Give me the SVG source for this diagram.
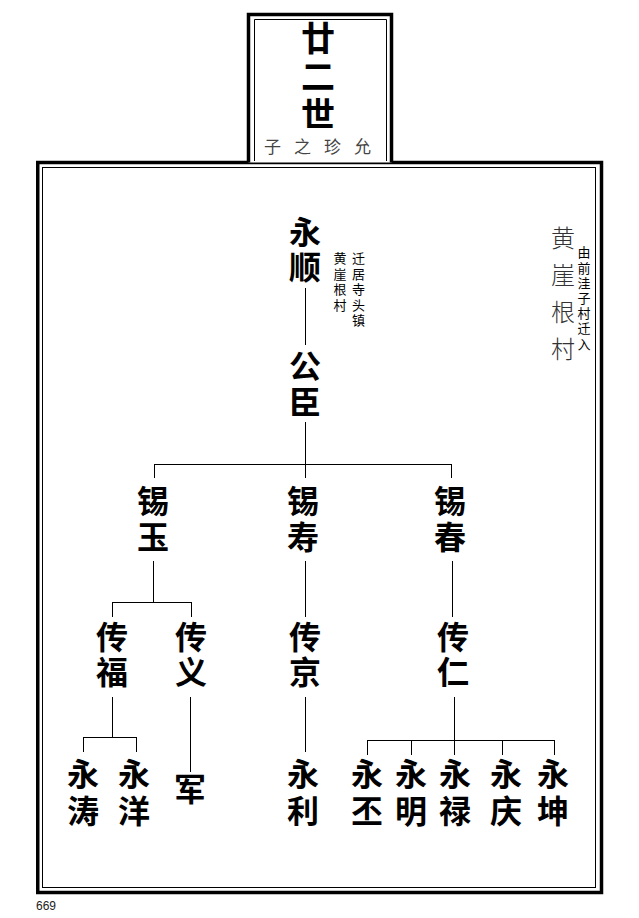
<svg xmlns="http://www.w3.org/2000/svg" width="639" height="918" viewBox="0 0 639 918">
<style>
text{font-family:"Noto Sans CJK SC","Noto Sans CJK TC",sans-serif}
.vt{writing-mode:vertical-rl;text-orientation:upright}
.n{font-size:32px;font-weight:700;fill:#000;letter-spacing:4px}
.t{font-size:34px;font-weight:700;fill:#000;letter-spacing:4px}
.s{font-size:17px;font-weight:400;fill:#444;letter-spacing:13px}
.a{font-size:13px;font-weight:400;fill:#000;letter-spacing:2.4px}
.v{font-size:24px;font-weight:300;fill:#333;letter-spacing:13px}
.c{fill:none;stroke:#000;stroke-width:1}
</style>
<rect width="639" height="918" fill="#fff"/>
<g id="frame">
<rect x="37.75" y="162.5" width="563.75" height="730" fill="none" stroke="#000" stroke-width="3.5"/>
<rect x="42.5" y="167.5" width="553" height="720" fill="none" stroke="#000" stroke-width="1"/>
<path d="M248.5,162.5 V14.5 H391.5 V162.5" fill="#fff" stroke="#000" stroke-width="3.5"/>
<path d="M254.5,161 V19.5 H386.5 V161" fill="none" stroke="#000" stroke-width="1"/>
</g>
<g id="title">
<text class="t vt" x="318" y="21">廿二世</text>
<text class="s" x="264" y="153">子之珍允</text>
</g>
<g id="note-right">
<text class="v vt" x="563" y="226">黄崖根村</text>
<text class="a vt" x="584" y="246" style="letter-spacing:2.2px">由前洼子村迁入</text>
</g>
<g id="connectors">
<path class="c" d="M305.5,288 V345"/>
<path class="c" d="M305.5,422 V478 M154.5,464.5 H451.5 M154.5,464 V478 M451.5,464 V478"/>
<path class="c" d="M153.5,561 V602 M112.5,602.5 H191.5 M112.5,602 V617 M191.5,602 V617"/>
<path class="c" d="M305.5,561 V617"/>
<path class="c" d="M452.5,561 V617"/>
<path class="c" d="M112.5,697 V737 M83.5,737.5 H136.5 M83.5,737 V752 M136.5,737 V752"/>
<path class="c" d="M190.5,697 V772"/>
<path class="c" d="M305.5,697 V752"/>
<path class="c" d="M454.5,697 V740 M367.5,740.5 H554.5 M367.5,740 V755 M411.5,740 V755 M454.5,740 V755 M502.5,740 V755 M554.5,740 V755"/>
</g>
<g id="n-yongshun">
<text class="n vt" x="305" y="216" style="letter-spacing:3px">永顺</text>
<text class="a vt" x="358.5" y="252">迁居寺头镇</text>
<text class="a vt" x="340" y="252">黄崖根村</text>
</g>
<g id="n-gongchen"><text class="n vt" x="305" y="350">公臣</text></g>
<g id="n-xiyu"><text class="n vt" x="153" y="485">锡玉</text></g>
<g id="n-xishou"><text class="n vt" x="303" y="485">锡寿</text></g>
<g id="n-xichun"><text class="n vt" x="450" y="485">锡春</text></g>
<g id="n-chuanfu"><text class="n vt" x="112" y="621" style="letter-spacing:3px">传福</text></g>
<g id="n-chuanyi"><text class="n vt" x="191" y="621" style="letter-spacing:3px">传义</text></g>
<g id="n-chuanjing"><text class="n vt" x="305" y="621" style="letter-spacing:3px">传京</text></g>
<g id="n-chuanren"><text class="n vt" x="453" y="621" style="letter-spacing:3px">传仁</text></g>
<g id="n-yongtao"><text class="n vt" x="83" y="758" style="letter-spacing:5px">永涛</text></g>
<g id="n-yongyang"><text class="n vt" x="134" y="758" style="letter-spacing:5px">永洋</text></g>
<g id="n-jun"><text class="n vt" x="190" y="773">军</text></g>
<g id="n-yongli"><text class="n vt" x="303" y="758" style="letter-spacing:5px">永利</text></g>
<g id="n-yongpi"><text class="n vt" x="367" y="758" style="letter-spacing:5px">永丕</text></g>
<g id="n-yongming"><text class="n vt" x="411" y="758" style="letter-spacing:5px">永明</text></g>
<g id="n-yonglu"><text class="n vt" x="455" y="758" style="letter-spacing:5px">永禄</text></g>
<g id="n-yongqing"><text class="n vt" x="506" y="758" style="letter-spacing:5px">永庆</text></g>
<g id="n-yongkun"><text class="n vt" x="553" y="758" style="letter-spacing:5px">永坤</text></g>
<text x="36" y="910" font-size="12" fill="#222" style="font-family:'Liberation Sans',sans-serif">669</text>
</svg>
